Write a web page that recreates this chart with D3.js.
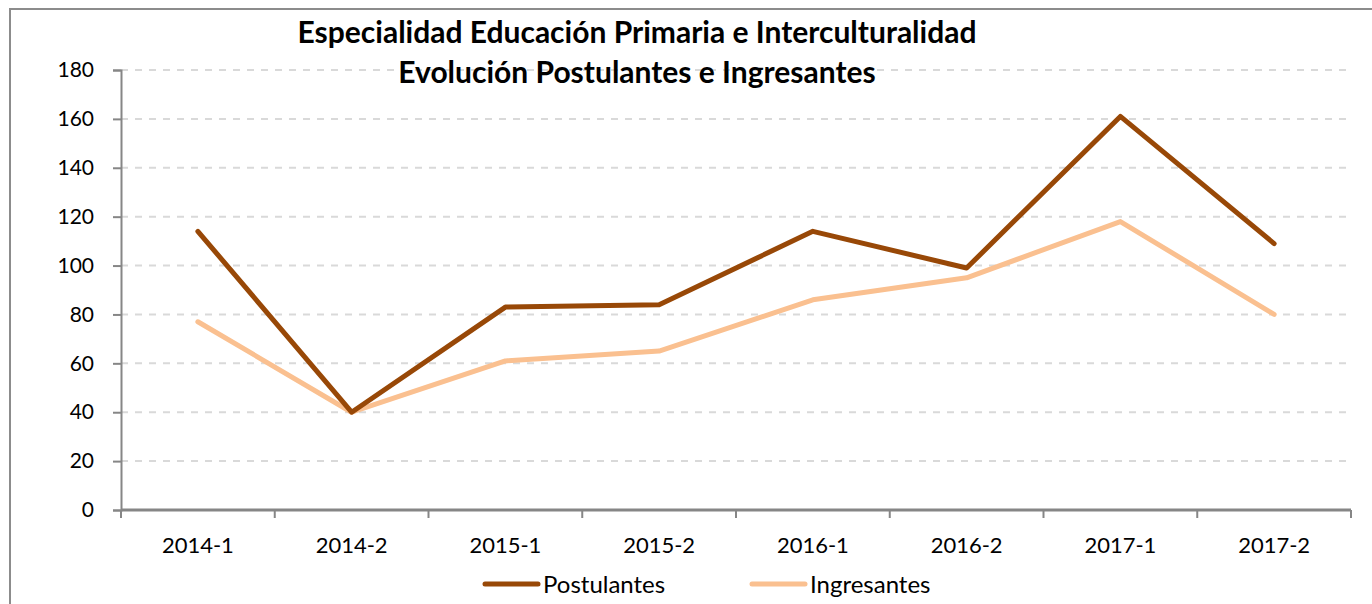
<!DOCTYPE html>
<html lang="es">
<head>
<meta charset="utf-8">
<title>Evolución Postulantes e Ingresantes</title>
<script src="https://cdnjs.cloudflare.com/ajax/libs/d3/7.8.5/d3.min.js"></script>
<style>
    body { margin: 0; background: #fff; }
    svg text { font-family: Lato, "Open Sans", sans-serif; fill: #000; }
</style>
</head>
<body>
<div id="chart"></div>
<script>
    // data
    var periods = ["2014-1", "2014-2", "2015-1", "2015-2", "2016-1", "2016-2", "2017-1", "2017-2"];
    var postulantes = [114, 40, 83, 84, 114, 99, 161, 109];
    var ingresantes = [77, 40, 61, 65, 86, 95, 118, 80];
    var yTicks = [0, 20, 40, 60, 80, 100, 120, 140, 160, 180];
    var titleLines = ["Especialidad Educación Primaria e Interculturalidad", "Evolución Postulantes e Ingresantes"];

    var W = 1372, H = 604;
    var margin = {top: 70, right: 21, bottom: 94, left: 121},
        width = W - margin.left - margin.right,
        height = H - margin.top - margin.bottom;

    var svg = d3.select("#chart").append("svg")
        .attr("width", W)
        .attr("height", H);

    // outer chart border
    svg.append("rect")
        .attr("x", 10).attr("y", 9)
        .attr("width", W + 20).attr("height", H + 20)
        .attr("fill", "none")
        .attr("stroke", "#8c8c8c")
        .attr("stroke-width", 2);

    var g = svg.append("g")
        .attr("transform", "translate(" + margin.left + "," + margin.top + ")");

    var x = d3.scaleBand().domain(periods).range([0, width]);
    var y = d3.scaleLinear().domain([0, 180]).range([height, 0]);

    // gridlines
    g.selectAll(".grid").data(yTicks.filter(function (d) { return d > 0; }))
        .enter().append("line")
        .attr("class", "grid")
        .attr("x1", 0).attr("x2", width - 4)
        .attr("y1", function (d) { return y(d); })
        .attr("y2", function (d) { return y(d); })
        .attr("stroke", "#d9d9d9")
        .attr("stroke-width", 2)
        .attr("stroke-dasharray", "7,7");

    // y axis
    var yAxis = g.append("g")
        .call(d3.axisLeft(y).tickValues(yTicks).tickSize(8).tickPadding(19).tickFormat(d3.format("d")));
    yAxis.select(".domain").attr("stroke", "#868686").attr("stroke-width", 2);
    yAxis.selectAll(".tick line").attr("stroke", "#868686").attr("stroke-width", 2);
    yAxis.selectAll("text").style("font-size", "21px").attr("fill", "#000");

    // x axis, ticks between categories
    var xAxisG = g.append("g").attr("transform", "translate(0," + height + ")");
    xAxisG.append("line")
        .attr("x1", 0).attr("x2", width)
        .attr("stroke", "#868686").attr("stroke-width", 3);
    xAxisG.selectAll(".xt").data(periods.concat(["end"]))
        .enter().append("line")
        .attr("x1", function (d, i) { return i * x.bandwidth(); })
        .attr("x2", function (d, i) { return i * x.bandwidth(); })
        .attr("y1", 0).attr("y2", 8)
        .attr("stroke", "#868686").attr("stroke-width", 2);
    xAxisG.selectAll(".xl").data(periods)
        .enter().append("text")
        .attr("x", function (d) { return x(d) + x.bandwidth() / 2; })
        .attr("y", 43)
        .attr("text-anchor", "middle")
        .style("font-size", "22px")
        .text(function (d) { return d; });

    var line = d3.line()
        .x(function (d, i) { return x(periods[i]) + x.bandwidth() / 2; })
        .y(function (d) { return y(d); });

    var series = [
        {name: "Postulantes", values: postulantes, color: "#984807"},
        {name: "Ingresantes", values: ingresantes, color: "#fac090"}
    ];

    // draw Ingresantes first so Postulantes sits on top
    series.slice().reverse().forEach(function (s) {
        g.append("path")
            .datum(s.values)
            .attr("d", line)
            .attr("fill", "none")
            .attr("stroke", s.color)
            .attr("stroke-width", 5)
            .attr("stroke-linejoin", "round")
            .attr("stroke-linecap", "round");
    });

    // title
    svg.append("text")
        .attr("x", 637).attr("y", 43)
        .attr("text-anchor", "middle")
        .style("font-size", "30px").style("font-weight", "bold")
        .text(titleLines[0]);
    svg.append("text")
        .attr("x", 637).attr("y", 83)
        .attr("text-anchor", "middle")
        .style("font-size", "30px").style("font-weight", "bold")
        .text(titleLines[1]);

    // legend
    var legendX = [483, 750];
    var legend = svg.selectAll(".legend").data(series)
        .enter().append("g")
        .attr("transform", function (d, i) { return "translate(" + legendX[i] + ",584)"; });
    legend.append("line")
        .attr("x1", 2).attr("x2", 55)
        .attr("stroke", function (d) { return d.color; })
        .attr("stroke-width", 5)
        .attr("stroke-linecap", "round");
    legend.append("text")
        .attr("x", 60).attr("y", 9)
        .style("font-size", "24px")
        .text(function (d) { return d.name; });
</script>
</body>
</html>
